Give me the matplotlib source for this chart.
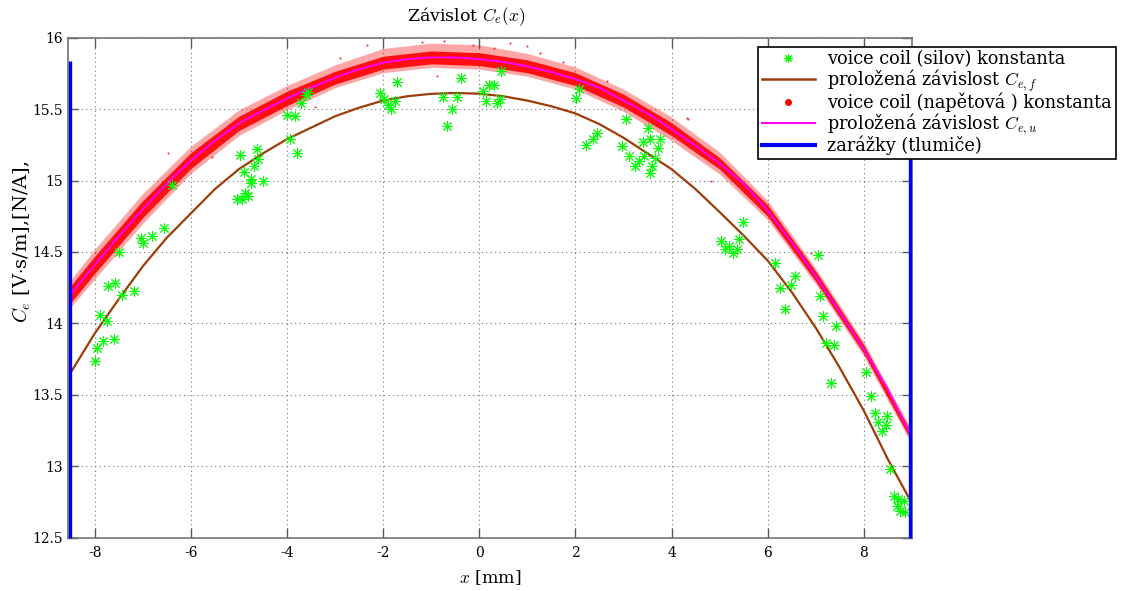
import matplotlib
matplotlib.use("Agg")
import matplotlib.pyplot as plt
from matplotlib.lines import Line2D
from matplotlib.ticker import FixedLocator, FuncFormatter

plt.rcParams["font.family"] = ["DejaVu Serif"]
plt.rcParams["mathtext.fontset"] = "cm"
plt.rcParams["axes.unicode_minus"] = False

# --- force-method constant (measured points) -------------------------------
force_x = [-7.99, -7.95, -7.82, -7.60, -7.89, -7.75, -7.72, -7.57, -7.44, -7.18,
           -7.50, -7.03, -7.00, -6.80, -6.55, -6.40,
           -5.03, -4.94, -4.87, -4.81, -4.75, -4.75, -4.49, -4.90, -4.68, -4.61,
           -4.63, -4.98,
           -4.01, -3.83, -3.94, -3.80, -3.70, -3.61, -3.56,
           -2.07, -1.98, -1.89, -1.84, -1.75, -1.71,
           -0.75, -0.47, -0.56, -0.67, -0.38,
           0.08, 0.15, 0.20, 0.31, 0.37, 0.43, 0.46,
           2.01, 2.07, 2.23, 2.36, 2.44,
           2.97, 3.06, 3.12, 3.25, 3.33, 3.41, 3.42, 3.52, 3.56, 3.59, 3.56, 3.71,
           3.77, 3.66,
           5.04, 5.11, 5.19, 5.28, 5.37, 5.40, 5.48,
           6.15, 6.26, 6.36, 6.48, 6.57,
           7.05, 7.09, 7.16, 7.21, 7.38, 7.43, 7.31,
           8.04, 8.15, 8.24, 8.29, 8.38, 8.47, 8.49, 8.55, 8.62, 8.72, 8.84, 8.70,
           8.75, 8.86]
force_y = [13.74, 13.83, 13.88, 13.89, 14.06, 14.02, 14.26, 14.28, 14.20, 14.23,
           14.50, 14.60, 14.56, 14.61, 14.67, 14.97,
           14.87, 14.87, 14.91, 14.89, 15.01, 14.98, 15.00, 15.06, 15.10, 15.15,
           15.22, 15.18,
           15.46, 15.45, 15.29, 15.19, 15.54, 15.60, 15.62,
           15.61, 15.57, 15.53, 15.50, 15.56, 15.69,
           15.585, 15.585, 15.50, 15.38, 15.72,
           15.63, 15.56, 15.67, 15.67, 15.54, 15.57, 15.77,
           15.58, 15.64, 15.25, 15.29, 15.335,
           15.24, 15.43, 15.17, 15.10, 15.14, 15.27, 15.17, 15.37, 15.29, 15.10, 15.05,
           15.23, 15.29, 15.16,
           14.58, 14.52, 14.54, 14.49, 14.52, 14.59, 14.71,
           14.42, 14.25, 14.10, 14.27, 14.33,
           14.48, 14.19, 14.05, 13.86, 13.85, 13.98, 13.58,
           13.66, 13.49, 13.37, 13.31, 13.25, 13.29, 13.35, 12.98, 12.79, 12.77, 12.76,
           12.72, 12.69, 12.68]

# --- fitted curves ----------------------------------------------------------
fit_x = [-8.51, -8.0, -7.5, -7.0, -6.5, -6.0, -5.5, -5.0, -4.5, -4.0, -3.5, -3.0,
         -2.5, -2.0, -1.5, -1.0, -0.5, 0.0, 0.5, 1.0, 1.5, 2.0, 2.5, 3.0, 3.5,
         4.0, 4.5, 5.0, 5.5, 6.0, 6.5, 7.0, 7.5, 8.0, 8.5, 8.97]
fit_f = [13.65, 13.93, 14.17, 14.40, 14.60, 14.77, 14.94, 15.08, 15.19, 15.29,
         15.37, 15.45, 15.51, 15.56, 15.59, 15.607, 15.613, 15.608, 15.59, 15.56,
         15.52, 15.47, 15.395, 15.30, 15.19, 15.08, 14.94, 14.78, 14.615, 14.44,
         14.22, 13.97, 13.69, 13.39, 13.05, 12.76]
fit_u = [14.20, 14.41, 14.61, 14.80, 14.98, 15.14, 15.28, 15.40, 15.49, 15.575,
         15.65, 15.72, 15.78, 15.825, 15.85, 15.862, 15.862, 15.85, 15.83, 15.80,
         15.76, 15.71, 15.65, 15.56, 15.47, 15.36, 15.245, 15.12, 14.98, 14.79,
         14.57, 14.33, 14.08, 13.82, 13.54, 13.22]

# --- voltage-method constant: dense measured band (envelopes) ---------------
band_x = [-8.51, -8, -7, -6, -5, -4, -3, -2, -1, 0, 1, 2, 3, 4, 5, 6, 7, 8, 8.97]
band_core_lo = [14.14, 14.35, 14.74, 15.085, 15.35, 15.525, 15.675, 15.78, 15.817,
                15.805, 15.755, 15.665, 15.515, 15.315, 15.08, 14.75, 14.295,
                13.79, 13.19]
band_core_hi = [14.26, 14.47, 14.86, 15.195, 15.45, 15.625, 15.765, 15.87, 15.907,
                15.895, 15.845, 15.755, 15.605, 15.405, 15.16, 14.83, 14.365,
                13.85, 13.25]
band_outer_lo = [14.11, 14.31, 14.70, 15.05, 15.315, 15.495, 15.65, 15.755, 15.792,
                 15.78, 15.73, 15.64, 15.485, 15.28, 15.045, 14.725, 14.275,
                 13.77, 13.17]
band_outer_hi = [14.30, 14.52, 14.91, 15.24, 15.495, 15.665, 15.81, 15.925, 15.962,
                 15.95, 15.89, 15.795, 15.64, 15.445, 15.20, 14.86, 14.385,
                 13.87, 13.27]
# scattered outliers of the voltage measurement
volt_x = [-0.74, -0.12, 0.64, -2.34, -0.88, 4.32, 1.27, 1.75, 2.66, -5.57, -6.47,
          -3.42, 4.83, 4.35, 6.91, -1.2, 0.3, -2.9, 1.0]
volt_y = [15.98, 15.95, 15.96, 15.95, 15.73, 15.44, 15.89, 15.83, 15.70, 15.165,
          15.19, 15.515, 15.0, 15.43, 14.49, 15.97, 15.93, 15.86, 15.94]

# --- end stops (dampers) ---------------------------------------------------
stop_x = [-8.51, 8.97]
stop_bottom = 12.5
stop_top = 15.84

xticks = [-8, -6, -4, -2, 0, 2, 4, 6, 8]
yticks = [12.5, 13, 13.5, 14, 14.5, 15, 15.5, 16]

fig = plt.figure(figsize=(11.31, 5.91), dpi=100)
ax = fig.add_axes([68.3 / 1131, 53.3 / 591, 844 / 1131, 500 / 591])

ax.fill_between(band_x, band_outer_lo, band_outer_hi, color="#ff0000",
                alpha=0.35, lw=0, zorder=2)
ax.fill_between(band_x, band_core_lo, band_core_hi, color="#ff0000",
                alpha=0.9, lw=0, zorder=2)
ax.plot(volt_x, volt_y, ls="none", marker="s", ms=1.3, mew=0,
        color="#ff2020", zorder=2)

ax.plot(fit_x, fit_f, color="#9c3d0a", lw=1.6, zorder=3)
ax.plot(fit_x, fit_u, color="#ff00ff", lw=1.4, zorder=3)

ax.plot(force_x, force_y, ls="none", marker=(8, 2, 0), ms=8, mew=0.7,
        color="#00ff00", zorder=4)

for sx in stop_x:
    ax.plot([sx, sx], [stop_bottom, stop_top], color="#0000ff", lw=2.4,
            zorder=5, clip_on=False, solid_capstyle="butt")

ax.set_xlim(-8.55, 9.01)
ax.set_ylim(12.5, 16)
ax.xaxis.set_major_locator(FixedLocator(xticks))
ax.yaxis.set_major_locator(FixedLocator(yticks))
fmt = FuncFormatter(lambda v, p: "%g" % v)
ax.xaxis.set_major_formatter(fmt)
ax.yaxis.set_major_formatter(fmt)
ax.tick_params(direction="in", length=7, width=1.0, color="0.35",
               labelsize=10, top=True, right=True, pad=4)
ax.tick_params(axis="x", pad=6)
for s in ax.spines.values():
    s.set_color("0.45")
    s.set_linewidth(1.2)
ax.grid(True, color="0.45", linestyle=(0, (1, 3)), linewidth=0.8)
ax.set_axisbelow(True)

fig.text(466 / 1131, 1 - 17 / 591, r"Závislot $C_e(x)$", ha="center",
         va="center", fontsize=12.5)
fig.text(490 / 1131, 1 - 578 / 591, r"$x$ [mm]", ha="center", va="center",
         fontsize=12.5)
fig.text(22 / 1131, 1 - 242 / 591, r"$C_e$ [V$\cdot$s/m],[N/A],", ha="center",
         va="center", rotation=90, fontsize=14)

handles = [
    Line2D([], [], ls="none", marker=(8, 2, 0), ms=6, mew=0.8, color="#00ff00"),
    Line2D([], [], color="#9c3d0a", lw=1.8),
    Line2D([], [], ls="none", marker="o", ms=4, color="#ff0000"),
    Line2D([], [], color="#ff00ff", lw=1.5),
    Line2D([], [], color="#0000ff", lw=3.0),
]
labels = [
    "voice coil (silov) konstanta",
    r"proložená závislost $C_{e,f}$",
    "voice coil (napětová ) konstanta",
    r"proložená závislost $C_{e,u}$",
    "zarážky (tlumiče)",
]
leg = fig.legend(handles, labels, loc="upper left",
                 bbox_to_anchor=(758 / 1131, 1 - 46.7 / 591),
                 bbox_transform=fig.transFigure, fontsize=12.8,
                 frameon=True, fancybox=False, borderaxespad=0,
                 handlelength=3.0, handletextpad=0.7, labelspacing=-0.05,
                 borderpad=0.2)
leg.get_frame().set_edgecolor("black")
leg.get_frame().set_linewidth(1.2)
leg.get_frame().set_facecolor("white")
leg.get_frame().set_alpha(1.0)
leg.set_zorder(10)

fig.savefig("out.png", dpi=100)
